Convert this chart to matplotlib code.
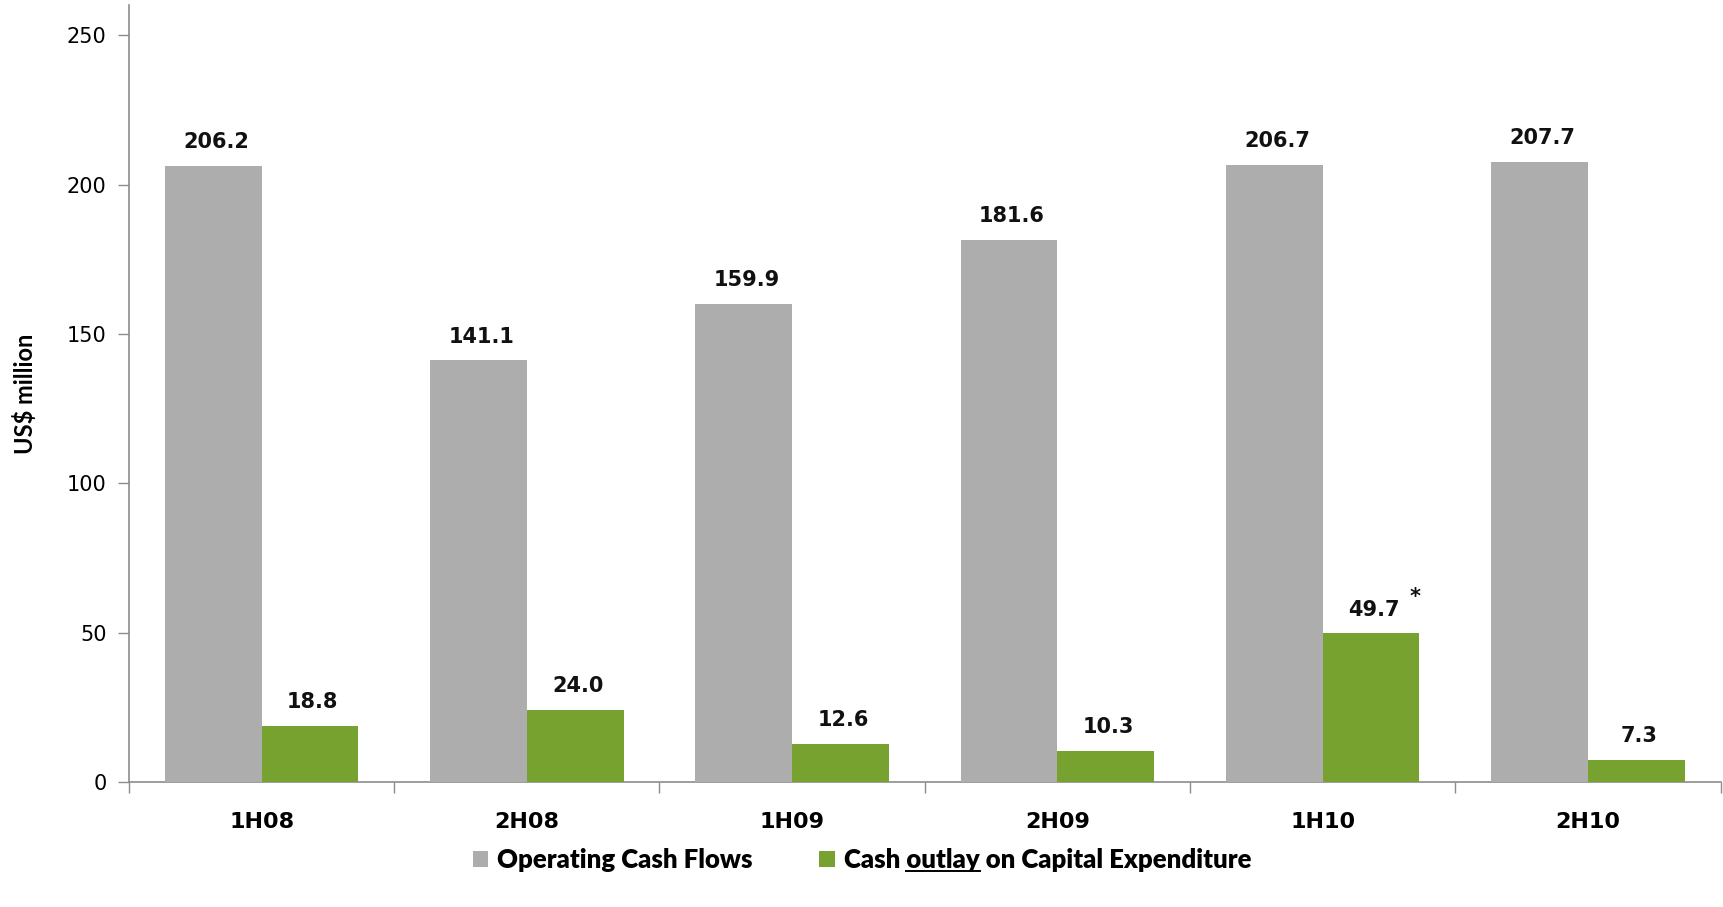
import matplotlib
matplotlib.use("Agg")
import matplotlib.pyplot as plt
from matplotlib.lines import Line2D
import numpy as np

periods = ["1H08", "2H08", "1H09", "2H09", "1H10", "2H10"]
operating_cash = [206.2, 141.1, 159.9, 181.6, 206.7, 207.7]
capex_outlay = [18.8, 24.0, 12.6, 10.3, 49.7, 7.3]
series_names = ["Operating Cash Flows", "Cash outlay on Capital Expenditure"]
y_label = "US$ million"
y_ticks = [0, 50, 100, 150, 200, 250]

gray = "#ADADAD"
green = "#78A22F"

fig = plt.figure(figsize=(17.24, 9.07), dpi=100)
ax = fig.add_axes([0.0748, 0.138, 0.9232, 0.856])

x = np.arange(len(periods))
w = 0.365
b1 = ax.bar(x - w / 2, operating_cash, width=w, color=gray, label=series_names[0], zorder=3)
b2 = ax.bar(x + w / 2, capex_outlay, width=w, color=green, label=series_names[1], zorder=3)

for bars, vals in ((b1, operating_cash), (b2, capex_outlay)):
    for rect, v in zip(bars, vals):
        ax.annotate(f"{v:.1f}", (rect.get_x() + rect.get_width() / 2, v),
                    xytext=(2, 10), textcoords="offset points",
                    ha="center", va="bottom", fontsize=15, fontweight="bold",
                    color="#111111")

# footnote marker on the 1H10 capex figure
i10 = periods.index("1H10")
ax.annotate("*", (x[i10] + w / 2, capex_outlay[i10]),
            xytext=(32, 19), textcoords="offset points",
            ha="center", va="bottom", fontsize=15, fontweight="bold", color="#111111")

ax.set_xlim(-0.5, len(periods) - 0.5)
ax.set_ylim(0, 260)
ax.set_yticks(y_ticks)
ax.tick_params(axis="y", labelsize=15, length=8, width=1, color="#8C8C8C", pad=8)
ax.set_xticks(x)
ax.set_xticklabels(periods, fontsize=16, fontweight="bold")
ax.tick_params(axis="x", length=0, pad=22)
# category separator ticks
ax.set_xticks(np.arange(-0.5, len(periods) + 0.5, 1), minor=True)
ax.tick_params(axis="x", which="minor", length=8, width=1, color="#8C8C8C")

for s in ("top", "right"):
    ax.spines[s].set_visible(False)
for s in ("left", "bottom"):
    ax.spines[s].set_color("#8C8C8C")
    ax.spines[s].set_linewidth(1.2)

ax.set_ylabel(y_label, fontsize=17, fontweight="bold", family="Lato")
ax.yaxis.set_label_coords(-0.058, 0.5)

leg = fig.legend(handles=[b1, b2], loc="center", bbox_to_anchor=(0.5, 1 - 860 / 907),
                 ncol=2, frameon=False, prop={"family": "Lato", "weight": "heavy", "size": 18.5},
                 handlelength=0.6, handleheight=0.6, handletextpad=0.35, columnspacing=2.6)

# underline the word "outlay" in the second legend entry
fig.canvas.draw()
renderer = fig.canvas.get_renderer()
txt = leg.get_texts()[1]
bb = txt.get_window_extent(renderer)
full = txt.get_text()
start = full.index("outlay")
fp = txt.get_fontproperties()
tmp = fig.text(0, 0, full[:start] + "|", fontproperties=fp)
bar_t = fig.text(0, 0, "|", fontproperties=fp)
w_pre = tmp.get_window_extent(renderer).width - bar_t.get_window_extent(renderer).width
tmp.set_text(full[:start + len("outlay")])
w_word = tmp.get_window_extent(renderer).width
tmp.remove()
bar_t.remove()
x0 = bb.x0 + w_pre
x1 = bb.x0 + w_word
yline = bb.y0 + 1
W, H = fig.bbox.width, fig.bbox.height
fig.add_artist(Line2D([x0 / W, x1 / W], [yline / H, yline / H], color="black",
                      linewidth=1.4, transform=fig.transFigure))

fig.savefig("out.png", dpi=100)
